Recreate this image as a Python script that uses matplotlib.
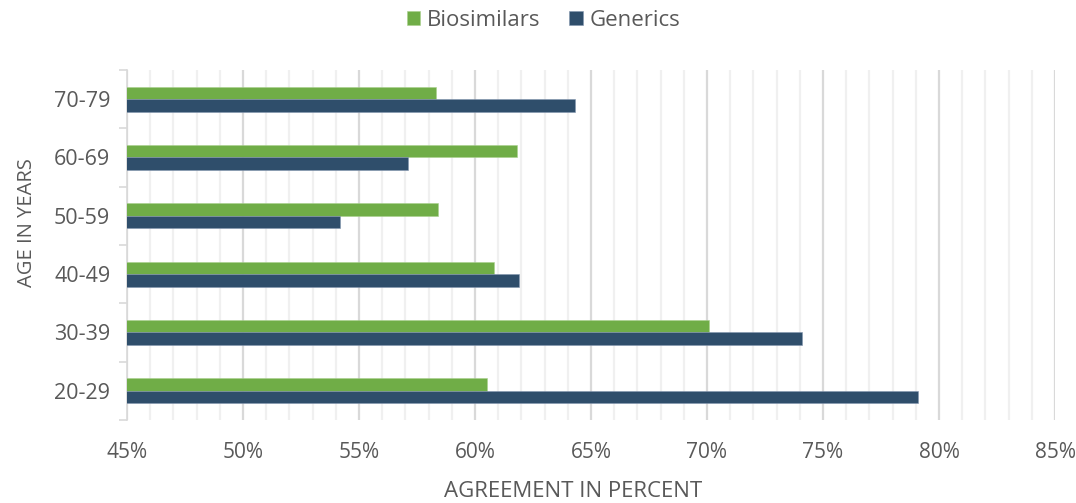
import numpy as np
import matplotlib
matplotlib.use('Agg')
import matplotlib.pyplot as plt
from matplotlib.ticker import MultipleLocator, FuncFormatter

# values (percent agreement)
age_groups = ['20-29', '30-39', '40-49', '50-59', '60-69', '70-79']
biosimilars = [60.5, 70.1, 60.8, 58.4, 61.8, 58.3]
generics = [79.1, 74.1, 61.9, 54.2, 57.1, 64.3]
series_names = ['Biosimilars', 'Generics']
colors = ['#70AD47', '#2F4E6B']

plt.rcParams['font.family'] = ['Open Sans', 'DejaVu Sans']
text_color = '#595959'

fig = plt.figure(figsize=(10.76, 5.03), dpi=100)
ax = fig.add_axes([0.118, 0.165, 0.8625, 0.696])

y = np.arange(len(age_groups))
h = 0.215
ax.barh(y + h / 2, biosimilars, height=h, color=colors[0], label=series_names[0],
        edgecolor='#a9d08e', linewidth=0.4, zorder=3)
ax.barh(y - h / 2, generics, height=h, color=colors[1], label=series_names[1],
        edgecolor='#8496b0', linewidth=0.4, zorder=3)

ax.set_xlim(45, 85)
ax.set_ylim(-0.5, len(age_groups) - 0.5)
ax.xaxis.set_major_locator(MultipleLocator(5))
ax.xaxis.set_minor_locator(MultipleLocator(1))
ax.xaxis.set_major_formatter(FuncFormatter(lambda v, p: f'{v:.0f}%'))
ax.grid(axis='x', which='major', color='#d9d9d9', linewidth=1.6, zorder=0)
ax.grid(axis='x', which='minor', color='#f0f0f0', linewidth=1.6, zorder=0)

ax.set_yticks(y)
ax.set_yticklabels(age_groups)
ax.set_yticks(np.arange(-0.5, len(age_groups), 1), minor=True)
ax.tick_params(axis='y', which='major', length=0, pad=12, labelsize=15.5, labelcolor=text_color)
ax.tick_params(axis='y', which='minor', length=6, color='#d9d9d9', width=1.2)
ax.tick_params(axis='x', which='both', length=0, pad=16, labelsize=15, labelcolor=text_color)

for s in ['top', 'right', 'bottom']:
    ax.spines[s].set_visible(False)
ax.spines['left'].set_color('#d9d9d9')
ax.spines['left'].set_linewidth(1.2)

ax.set_xlabel('AGREEMENT IN PERCENT', fontsize=16, color=text_color)
ax.xaxis.set_label_coords(0.481, -0.175)
ax.set_ylabel('AGE IN YEARS', fontsize=14.5, color=text_color)
ax.yaxis.set_label_coords(-0.097, 0.563)

fig.legend(loc='upper center', bbox_to_anchor=(0.505, 1.02), ncol=2, frameon=False,
           fontsize=16, labelcolor=text_color, handlelength=0.6, handleheight=0.6,
           handletextpad=0.3, columnspacing=1.3)

fig.savefig('out.png', dpi=100)
